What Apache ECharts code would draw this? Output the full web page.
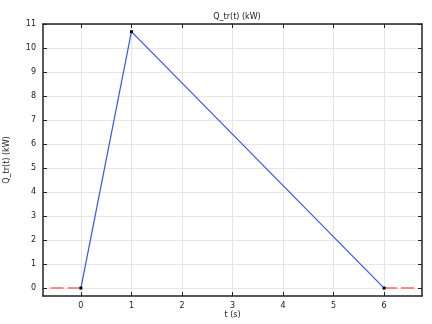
<!DOCTYPE html>
<html><head><meta charset="utf-8">
<script src="https://cdn.jsdelivr.net/npm/echarts@6/dist/echarts.min.js"></script>
<style>html,body{margin:0;padding:0;background:#fff}#c{width:432px;height:324px}</style>
</head><body><div id="c"></div>
<script>
const mainT = [0, 1, 6];
const mainQ = [0, 10.68, 0];
const leftT = [-0.6, 0];
const leftQ = [0, 0];
const rightT = [6, 6.6];
const rightQ = [0, 0];
const xTicks = [0, 1, 2, 3, 4, 5, 6];
const yTicks = [0, 1, 2, 3, 4, 5, 6, 7, 8, 9, 10, 11];

const zip = (a, b) => a.map((v, i) => [v, b[i]]);
const font = 'DejaVu Sans';
const axCol = '#222';
function xAx(pos, show) {
  return {
    type: 'value', position: pos, min: -0.75, max: 6.75,
    axisLine: { show: true, onZero: false, lineStyle: { color: axCol, width: 1.5 } },
    axisTick: { show: true, inside: true, length: 4, customValues: xTicks, lineStyle: { color: axCol, width: 1 } },
    axisLabel: { show: show, customValues: xTicks, color: '#222', fontSize: 8, fontFamily: font, margin: 6 },
    splitLine: { show: show, lineStyle: { color: '#e6e6e6', width: 1 } },
    name: show ? 't (s)' : '', nameLocation: 'middle', nameGap: 15, nameMoveOverlap: false,
    nameTextStyle: { color: '#222', fontSize: 8, fontFamily: font }
  };
}
function yAx(pos, show) {
  return {
    type: 'value', position: pos, min: -0.33, max: 11,
    axisLine: { show: true, onZero: false, lineStyle: { color: axCol, width: 1.5 } },
    axisTick: { show: true, inside: true, length: 4, customValues: yTicks, lineStyle: { color: axCol, width: 1 } },
    axisLabel: { show: show, customValues: yTicks, color: '#222', fontSize: 8, fontFamily: font, margin: 7 },
    splitLine: { show: show, lineStyle: { color: '#e6e6e6', width: 1 } },
    name: show ? 'Q_tr(t) (kW)' : '', nameLocation: 'middle', nameGap: 32, nameRotate: 90, nameMoveOverlap: false,
    nameTextStyle: { color: '#222', fontSize: 8, fontFamily: font }
  };
}
const chart = echarts.init(document.getElementById('c'), null, { renderer: 'canvas' });
chart.setOption({
  animation: false,
  backgroundColor: '#fff',
  title: { text: 'Q_tr(t) (kW)', left: 232, top: 8, textAlign: 'center',
    textStyle: { fontSize: 8, fontWeight: 'normal', color: '#222', fontFamily: font } },
  grid: { left: 43, right: 10, top: 24, bottom: 28, containLabel: false, outerBoundsMode: 'none' },
  xAxis: [xAx('bottom', true), xAx('top', false)],
  yAxis: [yAx('left', true), yAx('right', false)],
  series: [
    { type: 'line', data: zip(leftT, leftQ), symbol: 'none', lineStyle: { color: '#ff6666', width: 1.5, type: [13, 4] }, z: 2 },
    { type: 'line', data: zip(rightT, rightQ), symbol: 'none', lineStyle: { color: '#ff6666', width: 1.5, type: [13, 4] }, z: 2 },
    { type: 'line', data: zip(mainT, mainQ), symbol: 'rect', symbolSize: 3, showSymbol: true,
      itemStyle: { color: '#000' }, lineStyle: { color: '#3355ff', width: 1.2 }, z: 3 }
  ]
});
</script></body></html>
